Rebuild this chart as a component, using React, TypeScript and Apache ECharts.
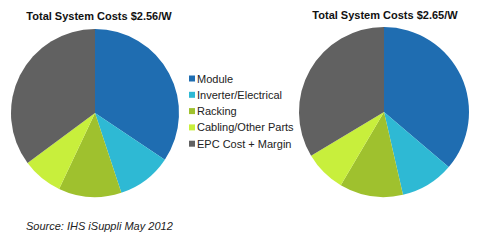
import React, { useEffect, useRef } from "react";
import * as echarts from "echarts";

const categories = ["Module", "Inverter/Electrical", "Racking", "Cabling/Other Parts", "EPC Cost + Margin"];
const colors = ["#1f6db1", "#2eb9d4", "#9fc12e", "#c8ef3c", "#616161"];
const leftValues = [0.88, 0.27, 0.31, 0.2, 0.9];
const rightValues = [0.96, 0.27, 0.32, 0.21, 0.89];
const titles = ["Total System Costs $2.56/W", "Total System Costs $2.65/W"];
const sourceText = "Source: IHS iSuppli May 2012";

export default function App() {
  const ref = useRef<HTMLDivElement>(null);
  useEffect(() => {
    document.body.style.margin = "0";
    const chart = echarts.init(ref.current!, null, { renderer: "svg" });
    const mk = (vals: number[]) => vals.map((v, i) => ({ name: categories[i], value: v }));
    chart.setOption({
      animation: false,
      backgroundColor: "#ffffff",
      color: colors,
      title: [
        {
          text: titles[0],
          left: 94,
          top: 5,
          textAlign: "center",
          textStyle: { fontFamily: "Arial, Liberation Sans", fontSize: 11, fontWeight: "bold", color: "#111" },
        },
        {
          text: titles[1],
          left: 380,
          top: 4,
          textAlign: "center",
          textStyle: { fontFamily: "Arial, Liberation Sans", fontSize: 11, fontWeight: "bold", color: "#111" },
        },
        {
          text: sourceText,
          left: 21,
          top: 215,
          textStyle: { fontFamily: "Arial, Liberation Sans", fontSize: 11, fontWeight: "normal", fontStyle: "italic", color: "#222" },
        },
      ],
      legend: {
        orient: "vertical",
        left: 184,
        top: 68,
        icon: "rect",
        itemWidth: 6,
        itemHeight: 6,
        itemGap: 5.3,
        selectedMode: false,
        data: categories,
        textStyle: { fontFamily: "Arial, Liberation Sans", fontSize: 11, color: "#222", padding: [0, 0, 0, -3] },
      },
      series: [
        {
          type: "pie",
          center: [95, 113],
          radius: 84,
          startAngle: 90,
          clockwise: true,
          label: { show: false },
          labelLine: { show: false },
          emphasis: { disabled: true },
          data: mk(leftValues),
        },
        {
          type: "pie",
          center: [384, 112],
          radius: 85,
          startAngle: 90,
          clockwise: true,
          label: { show: false },
          labelLine: { show: false },
          emphasis: { disabled: true },
          data: mk(rightValues),
        },
      ],
    });
    return () => chart.dispose();
  }, []);
  return <div ref={ref} style={{ width: 477, height: 242 }} />;
}
